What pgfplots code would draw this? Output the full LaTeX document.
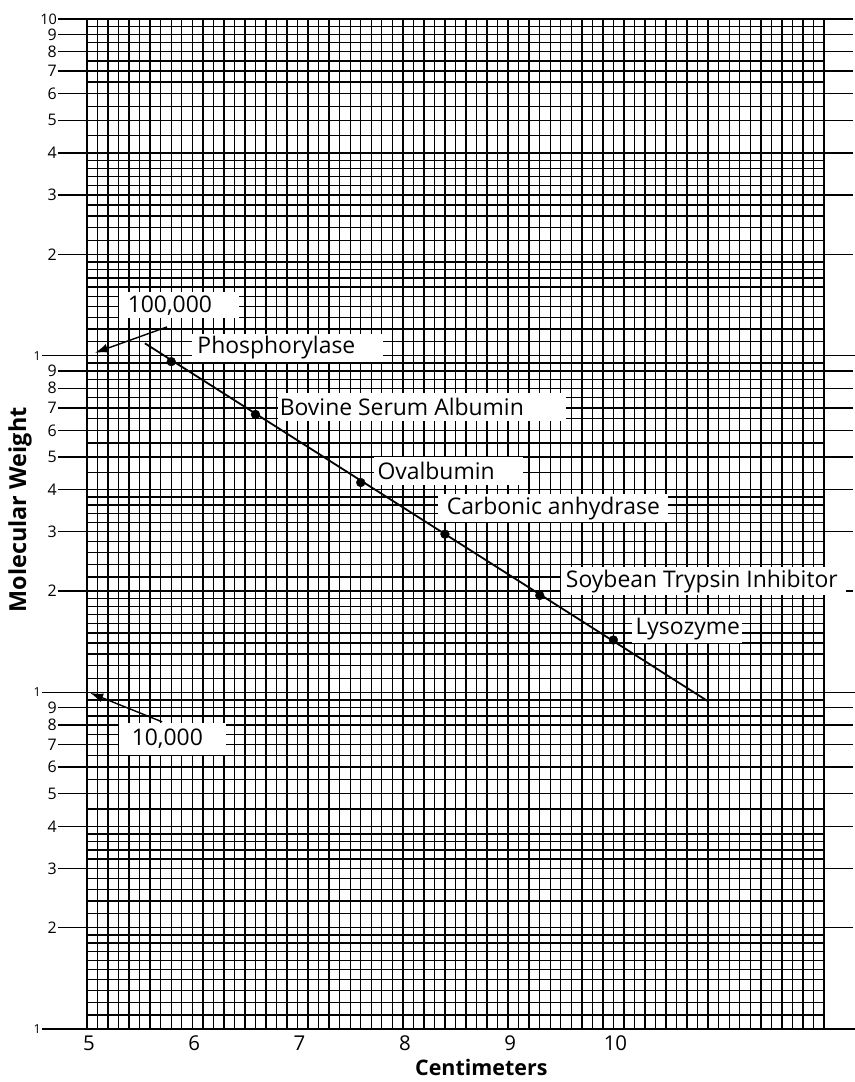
\documentclass[border=0pt]{standalone}
\usepackage{fontspec}
\setmainfont{Open Sans}
\usepackage{pgfplots}
\pgfplotsset{compat=1.18}
\usetikzlibrary{arrows.meta}

% measured standards: migration (cm) and molecular weight
\pgfplotstableread{
cm   mw
5.8  96000
6.6  66900
7.6  42000
8.4  29500
9.3  19400
10.0 14300
}\standards

\tikzset{
  lbl/.style={fill=white, anchor=west, inner xsep=5bp, inner ysep=0pt,
    minimum height=28bp, font=\fontsize{23}{26}\selectfont},
}
\newcommand\boxtext[2]{\makebox[#1][l]{#2}}

\begin{document}
\begin{tikzpicture}
\path[use as bounding box] (-87bp,-53bp) rectangle (768bp,1029bp);
\begin{axis}[
  scale only axis, width=737bp, height=1010bp,
  xmin=5, xmax=12, ymin=1000, ymax=1000000, ymode=log,
  xtick={5,6,7,8,9,10,11,12}, xticklabels={5,6,7,8,9,10,,},
  minor x tick num=9,
  ytick={2000,3000,4000,5000,6000,7000,8000,9000,
         20000,30000,40000,50000,60000,70000,80000,90000,
         200000,300000,400000,500000,600000,700000,800000,900000,1000000},
  yticklabels={2,3,4,5,6,7,8,9,2,3,4,5,6,7,8,9,2,3,4,5,6,7,8,9,
               {\fontsize{14.5}{14.5}\selectfont 10}},
  minor ytick={1100,1200,1300,1400,1500,1600,1700,1800,1900,
               2200,2400,2600,2800,3200,3400,3600,3800,
               4500,5500,6500,7500,8500,9500,
               11000,12000,13000,14000,15000,16000,17000,18000,19000,
               22000,24000,26000,28000,32000,34000,36000,38000,
               45000,55000,65000,75000,85000,95000,
               110000,120000,130000,140000,150000,160000,170000,180000,190000,
               220000,240000,260000,280000,320000,340000,360000,380000,
               450000,550000,650000,750000,850000,950000},
  extra y ticks={1000,10000,100000},
  extra y tick labels={1,1,1},
  extra y tick style={grid=major, major tick length=45bp,
    yticklabel style={font=\fontsize{12.5}{12.5}\selectfont}},
  grid=both,
  major grid style={black, line width=1.4bp},
  minor grid style={black, line width=1.4bp},
  axis line style={black, line width=1.4bp},
  tick align=outside,
  major tick length=29bp, minor tick length=0pt,
  xtick style={draw=none},
  ytick style={black, line width=1.4bp},
  xticklabel style={font=\fontsize{20.5}{20.5}\selectfont, yshift=26bp, xshift=2bp},
  yticklabel style={font=\fontsize{16}{16}\selectfont, anchor=east, inner sep=1bp},
  xlabel={\textbf{Centimeters}},
  ylabel={\textbf{Molecular Weight}},
  xlabel style={font=\fontsize{21.5}{21.5}\selectfont, at={(axis description cs:0.535,0)}, anchor=north, yshift=-27bp},
  ylabel style={font=\fontsize{23.5}{23.5}\selectfont, at={(axis description cs:-0.091,0.514)}, anchor=center},
  clip=false,
]
\addplot[black, line width=1.8bp, no marks] coordinates {(5.55,108800) (10.895,9420)};
\addplot[black, only marks, mark=*, mark size=4.4bp] table[x=cm, y=mw] {\standards};

\node[lbl] at (axis cs:6.0,105400) {\boxtext{181bp}{Phosphorylase}};
\node[lbl, inner xsep=2bp] at (axis cs:6.81,70600) {\boxtext{284bp}{Bovine Serum Albumin}};
\node[lbl, inner xsep=4bp] at (axis cs:7.72,45400) {\boxtext{141bp}{Ovalbumin}};
\node[lbl, inner xsep=9bp] at (axis cs:8.33,35200) {\boxtext{212bp}{Carbonic anhydrase}};
\node[lbl] at (axis cs:9.50,21400) {\boxtext{275bp}{Soybean Trypsin Inhibitor}};
\node[lbl, inner xsep=4bp] at (axis cs:10.17,15400) {\boxtext{102bp}{Lysozyme}};
\node[lbl, inner xsep=9bp, minimum height=26bp] at (axis cs:5.30,141200) {\boxtext{102bp}{100,000}};
\node[lbl, inner xsep=13bp, minimum height=32bp] at (axis cs:5.30,7260) {\boxtext{81bp}{10,000}};

\draw[-{Latex[length=13bp,width=9bp]}, line width=1.4bp] (axis cs:5.76,121700) -- (axis cs:5.076,102000);
\draw[-{Latex[length=13bp,width=9bp]}, line width=1.4bp] (axis cs:5.714,8170) -- (axis cs:5.03,9960);
\end{axis}
\end{tikzpicture}
\end{document}
